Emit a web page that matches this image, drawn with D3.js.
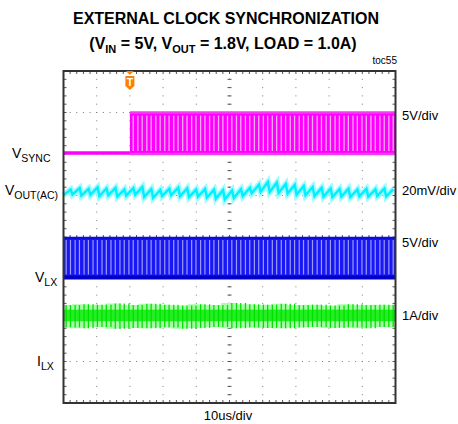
<!DOCTYPE html>
<html>
<head>
<meta charset="utf-8">
<script src="https://cdn.jsdelivr.net/npm/d3@7"></script>
<style>
	body { margin: 0; background: #fff; }
	text { font-family: "Liberation Sans", Arial, sans-serif; fill: #000; }
</style>
</head>
<body>
<svg id="chart" width="458" height="424"></svg>
<script>
// Channels (top to bottom on the scope screen)
const channelLabels = [["V", "SYNC"], ["V", "OUT(AC)"], ["V", "LX"], ["I", "LX"]];
const channelScaleText = ["5V/div", "20mV/div", "5V/div", "1A/div"];
const channelOffsetDiv = [2, 1, -1, -3]; // ground marker, in divisions from centre
const channelPerDiv = [5, 20, 5, 1]; // V, mV, V, A per division

// Time axis: 10us/div, trigger at 0
const timeDomain = [-20, 80];
const triggerTime = 0;

// Switching edges seen on screen (us), shared by VSYNC / VLX / ILX
const switchEdges = [-19.2, -17.9, -16.5, -15.2, -13.8, -12.5, -11.1, -9.8, -8.4, -7.1, -5.7, -4.4, -3.0, -1.7,
	-0.3, 1.0, 2.4, 3.7, 5.1, 6.4, 7.8, 9.1, 10.5, 11.8, 13.2, 14.5, 15.9, 17.2, 18.6, 19.9, 21.3, 22.6, 24.0,
	25.3, 26.7, 28.0, 29.4, 30.7, 32.1, 33.4, 34.8, 36.1, 37.5, 38.8, 40.2, 41.5, 42.9, 44.2, 45.6, 46.9, 48.3,
	49.6, 51.0, 52.3, 53.7, 55.0, 56.4, 57.7, 59.1, 60.4, 61.8, 63.1, 64.5, 65.8, 67.2, 68.5, 69.9, 71.2, 72.6,
	73.9, 75.3, 76.6, 78.0, 79.3];

// VSYNC levels (V)
const syncLow = 0;
const syncHigh = 5;

// VLX levels (V)
const lxLow = 0;
const lxHigh = 5;

// VOUT ripple: one tooth every 2.7us, peak / valley in mV
const voutToothPeriod = 2.7;
const voutPeak = [2.9, 3.6, 3.2, 3.9, 3.4, 3.7, 3.0, 3.5, 4.1, 3.1, 2.7, 3.3, 3.8, 3.4, 2.9, 3.2, 2.8, 2.6, 2.4,
	3.0, 3.7, 5.2, 6.5, 6.2, 5.6, 5.1, 4.5, 4.1, 3.7, 3.4, 3.1, 3.3, 2.9, 3.2, 3.0, 3.4, 3.1];
const voutValley = [0.1, 0.5, -0.1, 0.3, -0.3, 0.1, -0.5, 0.0, 0.4, -0.7, -1.1, -0.3, 0.1, -0.4, -0.8, -0.6,
	-1.0, -1.5, -1.9, -1.2, -0.3, 1.1, 1.9, 1.7, 1.3, 0.9, 0.4, 0.1, -0.3, -0.6, -0.8, -0.5, -0.7, -0.4, -0.6,
	-0.2, -0.5];

// ILX envelope every 5us (A)
const ilxUpper = [1.36, 1.38, 1.37, 1.40, 1.36, 1.39, 1.37, 1.35, 1.38, 1.36, 1.41, 1.38, 1.37, 1.39, 1.36, 1.37,
	1.35, 1.38, 1.36, 1.37, 1.36];
const ilxLower = [0.82, 0.80, 0.83, 0.79, 0.81, 0.80, 0.82, 0.79, 0.81, 0.83, 0.80, 0.82, 0.81, 0.80, 0.82, 0.83,
	0.81, 0.82, 0.80, 0.83, 0.82];
const ilxCore = [0.97, 1.25];

const svg = d3.select("#chart");
const plotLeft = 63.5, plotRight = 395.5, plotTop = 71, plotBottom = 403;

const x = d3.scaleLinear().domain(timeDomain).range([plotLeft, plotRight]);
const y = d3.scaleLinear().domain([4, -4]).range([plotTop, plotBottom]);
const yCh = (k, v) => y(channelOffsetDiv[k] + v / channelPerDiv[k]);

// Grid
const grid = svg.append("g");
const divX = d3.range(-20, 81, 10);
const divY = d3.range(-4, 5, 1);
const stepsX = d3.range(-20, 80.01, 2);
const stepsY = d3.range(-4, 4.01, 0.2);

divX.slice(1, -1).forEach((t) => {
	grid.selectAll(null).data(stepsY).join("rect")
		.attr("x", x(t) - 0.5).attr("y", (d) => y(d) - 0.5)
		.attr("width", 1).attr("height", 1).attr("fill", "#7a7a7a");
});
divY.slice(1, -1).forEach((v) => {
	grid.selectAll(null).data(stepsX).join("rect")
		.attr("x", (d) => x(d) - 0.5).attr("y", y(v) - 0.5)
		.attr("width", 1).attr("height", 1).attr("fill", "#7a7a7a");
});

// centre crosshair ticks
grid.selectAll(null).data(stepsY).join("line")
	.attr("x1", x(30) - 2).attr("x2", x(30) + 2)
	.attr("y1", (d) => y(d)).attr("y2", (d) => y(d))
	.attr("stroke", "#555").attr("stroke-width", 1);
grid.selectAll(null).data(stepsX).join("line")
	.attr("y1", y(0) - 2).attr("y2", y(0) + 2)
	.attr("x1", (d) => x(d)).attr("x2", (d) => x(d))
	.attr("stroke", "#555").attr("stroke-width", 1);

// frame ticks
grid.selectAll(null).data(stepsX).join("line")
	.attr("x1", (d) => x(d)).attr("x2", (d) => x(d))
	.attr("y1", plotTop).attr("y2", plotTop + 3)
	.attr("stroke", "#555");
grid.selectAll(null).data(stepsX).join("line")
	.attr("x1", (d) => x(d)).attr("x2", (d) => x(d))
	.attr("y1", plotBottom).attr("y2", plotBottom - 3)
	.attr("stroke", "#555");
grid.selectAll(null).data(stepsY).join("line")
	.attr("y1", (d) => y(d)).attr("y2", (d) => y(d))
	.attr("x1", plotLeft).attr("x2", plotLeft + 3)
	.attr("stroke", "#555");
grid.selectAll(null).data(stepsY).join("line")
	.attr("y1", (d) => y(d)).attr("y2", (d) => y(d))
	.attr("x1", plotRight).attr("x2", plotRight - 3)
	.attr("stroke", "#555");

// Traces
const traces = svg.append("g");

// VSYNC: idle low before the trigger, then the clock band
traces.append("line")
	.attr("x1", x(timeDomain[0])).attr("x2", x(triggerTime))
	.attr("y1", yCh(0, syncLow) - 1).attr("y2", yCh(0, syncLow) - 1)
	.attr("stroke", "#ff00ff").attr("stroke-width", 3.5);
traces.append("rect")
	.attr("x", x(triggerTime)).attr("width", x(timeDomain[1]) - x(triggerTime))
	.attr("y", yCh(0, syncHigh)).attr("height", yCh(0, syncLow) - yCh(0, syncHigh))
	.attr("fill", "#ff00ff");
traces.selectAll(null).data(switchEdges.filter((t) => t > triggerTime + 0.5)).join("line")
	.attr("x1", (d) => x(d)).attr("x2", (d) => x(d))
	.attr("y1", yCh(0, syncHigh) + 3).attr("y2", yCh(0, syncLow) - 3)
	.attr("stroke", "#fba8fb").attr("stroke-width", 1.3);
[syncHigh, syncLow].forEach((v) => {
	traces.append("line")
		.attr("x1", x(triggerTime)).attr("x2", x(timeDomain[1]))
		.attr("y1", yCh(0, v)).attr("y2", yCh(0, v))
		.attr("stroke", "#f43cf4").attr("stroke-width", 2.5);
});

// VOUT ripple
const voutPoints = [];
voutPeak.forEach((p, i) => {
	const t0 = timeDomain[0] + i * voutToothPeriod;
	voutPoints.push([t0, voutValley[i]]);
	voutPoints.push([t0 + 0.8 * voutToothPeriod, p]);
});
const voutLine = d3.line()
	.x((d) => x(d[0]))
	.y((d) => yCh(1, d[1]))
	.curve(d3.curveLinear);
traces.append("path").attr("d", voutLine(voutPoints))
	.attr("fill", "none").attr("stroke", "#a0fcff").attr("stroke-width", 6);
traces.append("path").attr("d", voutLine(voutPoints))
	.attr("fill", "none").attr("stroke", "#00f0ff").attr("stroke-width", 2.5);

// VLX band
traces.append("rect")
	.attr("x", x(timeDomain[0])).attr("width", x(timeDomain[1]) - x(timeDomain[0]))
	.attr("y", yCh(2, lxHigh)).attr("height", yCh(2, lxLow) - yCh(2, lxHigh))
	.attr("fill", "#1818f4");
traces.selectAll(null).data(switchEdges).join("line")
	.attr("x1", (d) => x(d)).attr("x2", (d) => x(d))
	.attr("y1", yCh(2, lxHigh) + 3).attr("y2", yCh(2, lxLow) - 4)
	.attr("stroke", "#9a9aff").attr("stroke-width", 1.2);
traces.append("line")
	.attr("x1", x(timeDomain[0])).attr("x2", x(timeDomain[1]))
	.attr("y1", yCh(2, lxHigh) + 1).attr("y2", yCh(2, lxHigh) + 1)
	.attr("stroke", "#0c0ce0").attr("stroke-width", 2.5);
traces.append("line")
	.attr("x1", x(timeDomain[0])).attr("x2", x(timeDomain[1]))
	.attr("y1", yCh(2, lxLow) - 1).attr("y2", yCh(2, lxLow) - 1)
	.attr("stroke", "#0000c8").attr("stroke-width", 4);

// ILX ripple band
const ilxTimes = ilxUpper.map((_, i) => timeDomain[0] + i * 5);
const ilxArea = d3.area()
	.x((d, i) => x(ilxTimes[i]))
	.y0((d, i) => yCh(3, ilxLower[i]))
	.y1((d, i) => yCh(3, ilxUpper[i]))
	.curve(d3.curveStep);
traces.append("path").attr("d", ilxArea(ilxUpper))
	.attr("fill", "#a6ffa6");
traces.append("rect")
	.attr("x", x(timeDomain[0])).attr("width", x(timeDomain[1]) - x(timeDomain[0]))
	.attr("y", yCh(3, ilxCore[1])).attr("height", yCh(3, ilxCore[0]) - yCh(3, ilxCore[1]))
	.attr("fill", "#22ee22");
traces.selectAll(null).data(switchEdges).join("line")
	.attr("x1", (d) => x(d)).attr("x2", (d) => x(d))
	.attr("y1", (d) => yCh(3, ilxUpper[Math.floor((d - timeDomain[0]) / 5)]))
	.attr("y2", (d) => yCh(3, ilxLower[Math.floor((d - timeDomain[0]) / 5)]))
	.attr("stroke", "#00e000").attr("stroke-width", 1.3);

// Frame
svg.append("rect")
	.attr("x", plotLeft).attr("y", plotTop)
	.attr("width", plotRight - plotLeft).attr("height", plotBottom - plotTop)
	.attr("fill", "none").attr("stroke", "#333").attr("stroke-width", 2);

// Trigger marker
const tx = x(triggerTime);
svg.append("path")
	.attr("d", `M${tx - 4},${plotTop}L${tx + 4},${plotTop}L${tx},${plotTop + 4}Z`)
	.attr("fill", "#ff7f00");
svg.append("path")
	.attr("d", `M${tx - 4.5},${plotTop + 5}h9v10l-4.5,4l-4.5,-4Z`)
	.attr("fill", "#ff7f00");
svg.append("text").attr("x", tx).attr("y", plotTop + 15)
	.attr("text-anchor", "middle").style("font-size", "10.5px").style("font-weight", "bold")
	.style("fill", "#fff").text("T");

// Text helper with subscript
function subText(px, py, main, sub, size, subSize) {
	const t = svg.append("text").attr("x", px).attr("y", py)
		.style("font-size", `${size}px`);
	t.append("tspan").text(main);
	t.append("tspan").attr("dy", size * 0.3).style("font-size", `${subSize}px`).text(sub);
	return t;
}

// Left channel labels
const labelX = [12, 5, 35, 37];
const labelY = [158, 195, 282, 366];
channelLabels.forEach((l, k) => subText(labelX[k], labelY[k], l[0], l[1], 14, 10.5));

// Right scale labels
const scaleY = [120, 195, 247, 320];
channelScaleText.forEach((s, k) => {
	svg.append("text").attr("x", 402).attr("y", scaleY[k])
		.style("font-size", "13px").text(s);
});

// Titles
svg.append("text").attr("x", 226).attr("y", 24).attr("text-anchor", "middle")
	.style("font-size", "16px").style("font-weight", "bold")
	.text("EXTERNAL CLOCK SYNCHRONIZATION");
const t2 = svg.append("text").attr("x", 223).attr("y", 48.5).attr("text-anchor", "middle")
	.style("font-size", "16px").style("font-weight", "bold");
t2.append("tspan").text("(V");
t2.append("tspan").attr("dy", 4).style("font-size", "11px").text("IN");
t2.append("tspan").attr("dy", -4).text(" = 5V, V");
t2.append("tspan").attr("dy", 4).style("font-size", "11px").text("OUT");
t2.append("tspan").attr("dy", -4).text(" = 1.8V, LOAD = 1.0A)");

svg.append("text").attr("x", 397).attr("y", 64).attr("text-anchor", "end")
	.style("font-size", "10px").text("toc55");

svg.append("text").attr("x", 228).attr("y", 420).attr("text-anchor", "middle")
	.style("font-size", "13px").text("10us/div");
</script>
</body>
</html>
